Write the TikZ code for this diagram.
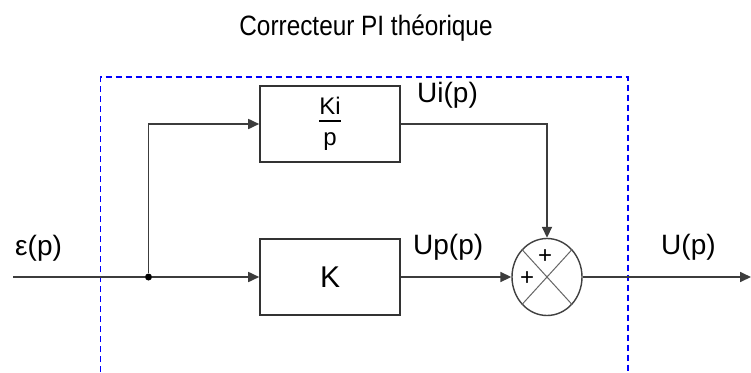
\documentclass[tikz,border=0pt]{standalone}
\usepackage{fontspec}
\setmainfont{Liberation Sans}
\newfontfamily\titlefont{Liberation Sans}[FakeStretch=0.87]
\usetikzlibrary{arrows.meta, shapes.geometric}
\definecolor{wiregray}{RGB}{60,60,60}
\definecolor{frameblue}{RGB}{0,0,255}

\begin{document}
\begin{tikzpicture}[
  x=1pt, y=-1pt,
  every node/.style={align=center, inner sep=0pt},
  arr/.style={-{Triangle[length=11pt, width=10pt]}, line width=1.7pt, draw=wiregray},
  wire/.style={line width=1.7pt, draw=wiregray},
  block/.style={rectangle, draw=black!80, line width=1.6pt, fill=white,
                minimum width=140pt, minimum height=76pt},
  summer/.style={ellipse, draw=black!75, line width=1.4pt, fill=white,
                 minimum width=70pt, minimum height=77pt},
  crossline/.style={line width=1pt, draw=black!60},
  junction/.style={circle, fill=black, minimum size=7pt},
  lbl/.style={font=\fontsize{28}{30}\selectfont, anchor=base west},
  sgn/.style={font=\fontsize{24}{26}\selectfont},
]
\useasboundingbox (0,0) rectangle (751,372);

% ---------------------------------------------------------------- frame
\node[font=\titlefont\fontsize{28}{30}\selectfont, anchor=base] (title) at (366,35) {Correcteur PI théorique};
\draw[frameblue, line width=1.2pt, dash pattern=on 6pt off 4pt] (100.5,372) |- (628,77) -- (628,372);

% ---------------------------------------------------------------- blocks
\coordinate (in) at (13,277);
\node[junction] (split) at (148.5,277) {};
\node[block, font=\fontsize{24}{28}\selectfont] (ki) at (330,124)
  {Ki\\[-21pt]\rule{22pt}{1.4pt}\\[-4pt]p};
\node[block, font=\fontsize{30}{32}\selectfont] (k) at (330,277) {K};
\node[summer] (sum) at (547,277) {};
\coordinate (out) at (751,277);

\draw[crossline] (sum.north west) -- (sum.south east);
\draw[crossline] (sum.north east) -- (sum.south west);
\node[sgn] (plusa) at (545,257) {+};
\node[sgn] (plusb) at (527,279) {+};

% ---------------------------------------------------------------- wires
\draw[wire] (in) -- (split);
\draw[arr] (split) -- (k);
\draw[arr] (split) |- (ki);
\draw[arr] (ki) -| (sum);
\draw[arr] (k) -- (sum);
\draw[arr] (sum) -- (out);

% ---------------------------------------------------------------- labels
\node[lbl] (eps) at (15,255) {ε(p)};
\node[lbl] (ui)  at (417,102) {Ui(p)};
\node[lbl] (up)  at (413,254) {Up(p)};
\node[lbl] (u)   at (661,254) {U(p)};

\end{tikzpicture}
\end{document}
